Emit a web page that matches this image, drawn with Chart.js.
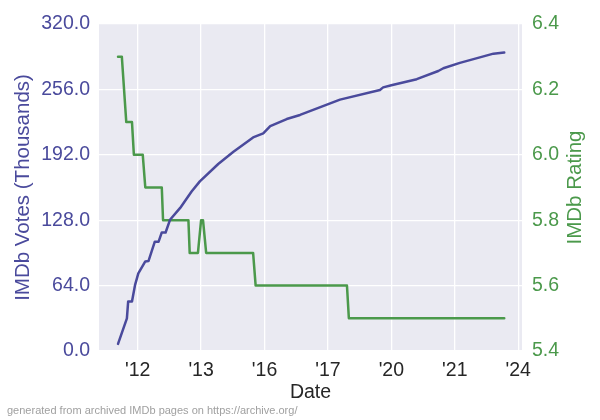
<!DOCTYPE html>
<html>
<head>
<meta charset="utf-8">
<script src="https://cdn.jsdelivr.net/npm/chart.js@4/dist/chart.umd.min.js"></script>
<style>
  body { margin: 0; background: #fff; }
  #wrap { width: 600px; height: 420px; }
</style>
</head>
<body>
<div id="wrap"><canvas id="imdbChart" width="600" height="420"></canvas></div>
<script>
// x positions are in "tick slots": tick i sits at x = i
const tickLabels = ["'12", "'13", "'16", "'17", "'20", "'21", "'24"];

const voteX = [-0.31, -0.17, -0.15, -0.09, -0.04, 0.01, 0.12, 0.17, 0.22, 0.27, 0.33, 0.38, 0.44, 0.51,
  0.67, 0.85, 0.98, 1.27, 1.51, 1.82, 1.98, 2.09, 2.35, 2.56, 3.19, 3.82, 3.87, 4.00, 4.40, 4.74,
  4.82, 5.08, 5.61, 5.78];
const votes = [7, 32, 48.5, 48.5, 65, 76, 87.6, 88, 97.4, 107, 107, 116, 116, 128.4,
  140, 156, 166, 183, 195, 209, 213, 220, 227, 231, 246, 255.5, 258, 260, 266, 274,
  276.7, 282, 291, 292];

const ratingX = [-0.31, -0.25, -0.18, -0.09, -0.06, 0.08, 0.12, 0.38, 0.40, 0.80, 0.82, 0.95, 1.00, 1.03,
  1.08, 1.82, 1.86, 3.30, 3.33, 5.78];
const ratings = [6.3, 6.3, 6.1, 6.1, 6.0, 6.0, 5.9, 5.9, 5.8, 5.8, 5.7, 5.7, 5.8, 5.8,
  5.7, 5.7, 5.6, 5.6, 5.5, 5.5];

const voteTicks = [0, 64, 128, 192, 256, 320];
const ratingTicks = [5.4, 5.6, 5.8, 6.0, 6.2, 6.4];

const BLUE = "#4a4a9c";
const GREEN = "#4b994b";
const FONT = "'Liberation Sans', Arial, sans-serif";

const sideTitles = {
  id: "sideTitles",
  afterDraw(chart) {
    const ctx = chart.ctx;
    const area = chart.chartArea;
    const midY = (area.top + area.bottom) / 2;
    ctx.save();
    ctx.font = "20.5px " + FONT;
    ctx.textAlign = "center";
    ctx.textBaseline = "middle";
    ctx.fillStyle = BLUE;
    ctx.translate(23, midY);
    ctx.rotate(-Math.PI / 2);
    ctx.fillText("IMDb Votes (Thousands)", 0, 0);
    ctx.restore();

    ctx.save();
    ctx.font = "20.5px " + FONT;
    ctx.textAlign = "center";
    ctx.textBaseline = "middle";
    ctx.fillStyle = GREEN;
    ctx.translate(575, midY);
    ctx.rotate(-Math.PI / 2);
    ctx.fillText("IMDb Rating", 0, 0);
    ctx.restore();

    ctx.save();
    ctx.font = "11px " + FONT;
    ctx.textAlign = "left";
    ctx.textBaseline = "middle";
    ctx.fillStyle = "#a0a0a0";
    ctx.fillText("generated from archived IMDb pages on https://archive.org/", 7, 411);
    ctx.restore();
  }
};

const plotBg = {
  id: "plotBg",
  beforeDraw(chart) {
    const a = chart.chartArea;
    chart.ctx.save();
    chart.ctx.fillStyle = "#eaeaf2";
    chart.ctx.fillRect(a.left, a.top, a.right - a.left, a.bottom - a.top);
    chart.ctx.restore();
  }
};

new Chart("imdbChart", {
  type: "line",
  data: {
    datasets: [{
      label: "IMDb Votes",
      data: voteX.map((x, i) => ({ x: x, y: votes[i] })),
      borderColor: BLUE,
      borderWidth: 2.5,
      borderJoinStyle: "round",
      borderCapStyle: "round",
      pointRadius: 0,
      tension: 0,
      yAxisID: "yVotes"
    }, {
      label: "IMDb Rating",
      data: ratingX.map((x, i) => ({ x: x, y: ratings[i] })),
      borderColor: GREEN,
      borderWidth: 2.5,
      borderJoinStyle: "round",
      borderCapStyle: "round",
      pointRadius: 0,
      tension: 0,
      yAxisID: "yRating"
    }]
  },
  options: {
    responsive: false,
    animation: false,
    layout: { padding: { top: 24, left: 0, right: 0, bottom: 0 } },
    plugins: {
      legend: { display: false },
      tooltip: { enabled: false }
    },
    scales: {
      x: {
        type: "linear",
        min: -0.61,
        max: 6.06,
        afterBuildTicks: (s) => { s.ticks = tickLabels.map((t, i) => ({ value: i })); },
        afterFit: (s) => { s.height = 69; },
        ticks: {
          callback: (v) => tickLabels[Math.round(v)],
          color: "#262626",
          font: { family: FONT, size: 19.5 },
          padding: 8,
          maxRotation: 0,
          autoSkip: false
        },
        grid: { color: "#ffffff", lineWidth: 1.3, drawTicks: false },
        border: { display: false },
        title: {
          display: true,
          text: "Date",
          color: "#262626",
          font: { family: FONT, size: 19.5 },
          padding: { top: 0, bottom: 16 }
        }
      },
      yVotes: {
        position: "left",
        min: 0,
        max: 320,
        afterBuildTicks: (s) => { s.ticks = voteTicks.map((v) => ({ value: v })); },
        afterFit: (s) => { s.width = 99; },
        ticks: {
          callback: (v) => v.toFixed(1),
          color: BLUE,
          font: { family: FONT, size: 19.5 },
          padding: 9
        },
        grid: { color: "#ffffff", lineWidth: 1.3, drawTicks: false },
        border: { display: false }
      },
      yRating: {
        position: "right",
        min: 5.4,
        max: 6.4,
        afterBuildTicks: (s) => { s.ticks = ratingTicks.map((v) => ({ value: v })); },
        afterFit: (s) => { s.width = 78; },
        ticks: {
          callback: (v) => v.toFixed(1),
          color: GREEN,
          font: { family: FONT, size: 19.5 },
          padding: 10
        },
        grid: { display: false, drawTicks: false },
        border: { display: false }
      }
    }
  },
  plugins: [plotBg, sideTitles]
});
</script>
</body>
</html>
